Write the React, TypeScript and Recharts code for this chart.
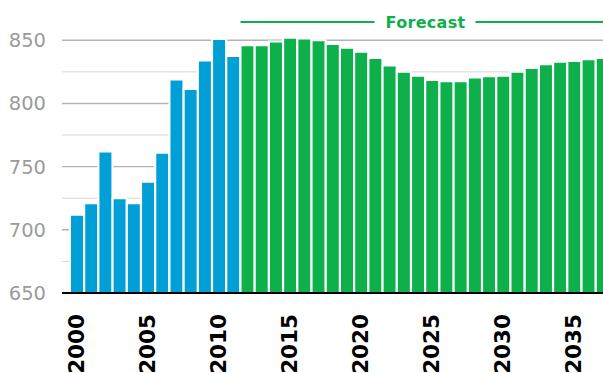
import React from 'react';
import { BarChart, Bar, XAxis, YAxis, CartesianGrid, Cell } from 'recharts';

const years = [
    2000, 2001, 2002, 2003, 2004, 2005, 2006, 2007, 2008, 2009,
    2010, 2011, 2012, 2013, 2014, 2015, 2016, 2017, 2018, 2019,
    2020, 2021, 2022, 2023, 2024, 2025, 2026, 2027, 2028, 2029,
    2030, 2031, 2032, 2033, 2034, 2035, 2036, 2037,
];
const values = [
    712, 721, 762, 725, 721, 738, 761, 819, 811.5, 834,
    851, 837.5, 846, 846, 849, 852, 851.5, 850, 847, 844,
    841, 836, 830, 825, 822, 818.5, 817.5, 817.5, 820.5, 821.5,
    822, 825, 828, 831, 833, 833.5, 835, 836,
];
const yTicks = [650, 675, 700, 725, 750, 775, 800, 825, 850];
const yLabels = [650, 700, 750, 800, 850];
const forecastFrom = 2012;
const forecastLabel = 'Forecast';

const BLUE = '#00a0d7';
const GREEN = '#0db04b';

// chart geometry
const WIDTH = 610;
const HEIGHT = 373;
const AXIS_W = 62;
const PAD_LEFT = 8;
const TOP = 15;
const band = (WIDTH - AXIS_W - PAD_LEFT) / years.length;

const data = years.map((year, i) => ({ year, value: values[i] }));

const GridLine = (props: any) => {
    const { x1, x2, y1, y2, index } = props;
    // skip the plot's top edge, only the tick rows get a line
    if (y1 <= TOP + 1) return null;
    const major = index % 2 === 0;
    return (
        <line x1={x1} x2={x2} y1={y1} y2={y2}
            stroke={major ? '#b4b4b4' : '#d6d6d6'} strokeWidth={major ? 1.4 : 1} />
    );
};

const YearTick = ({ x, y, payload }: any) => {
    const tx = x + 6.4;
    const ty = y + 19;
    return (
        <text x={tx} y={ty} transform={`rotate(-90, ${tx}, ${ty})`} textAnchor="end"
            fill="#000" fontSize={21.5} fontWeight={700} fontFamily="DejaVu Sans">
            {payload.value}
        </text>
    );
};

const ValueTick = ({ x, y, payload }: any) => {
    if (!yLabels.includes(payload.value)) return null;
    return (
        <text x={x} y={y} dy={7} textAnchor="end" fill="#9b9b9b" fontSize={19.5} fontFamily="DejaVu Sans">
            {payload.value}
        </text>
    );
};

// bracket line with label over the forecast years
const ForecastMark = () => {
    const x0 = AXIS_W + PAD_LEFT + (forecastFrom - years[0]) * band;
    const y = 22;
    const cx = 425.5;
    return (
        <g>
            <line x1={x0} x2={cx - 51} y1={y} y2={y} stroke={GREEN} strokeWidth={2} />
            <line x1={cx + 50} x2={WIDTH} y1={y} y2={y} stroke={GREEN} strokeWidth={2} />
            <text x={cx} y={y + 6} textAnchor="middle" fill={GREEN} fontSize={16} fontWeight={700}
                letterSpacing={0.3} fontFamily="DejaVu Sans">
                {forecastLabel}
            </text>
        </g>
    );
};

const App = () => {
    return (
        <div style={{ position: 'absolute', left: 0, top: 0, width: 603, height: 373, overflow: 'hidden', background: '#fff' }}>
            <BarChart width={WIDTH} height={HEIGHT} data={data} barCategoryGap={0}
                margin={{ top: TOP, right: 0, bottom: 0, left: 0 }}>
                <CartesianGrid vertical={false} horizontal={GridLine} />
                <XAxis dataKey="year" type="category" interval={4} height={80}
                    padding={{ left: PAD_LEFT, right: 0 }}
                    axisLine={{ stroke: '#000', strokeWidth: 2.2 }} tickLine={false} tickSize={0}
                    tick={<YearTick />} />
                <YAxis type="number" domain={[650, 870]} ticks={yTicks} width={AXIS_W}
                    axisLine={false} tickLine={false} tickSize={0} tickMargin={16}
                    tick={<ValueTick />} allowDataOverflow />
                <Bar dataKey="value" stroke="#fff" strokeWidth={2} isAnimationActive={false}>
                    {data.map((d) => (
                        <Cell key={d.year} fill={d.year < forecastFrom ? BLUE : GREEN} />
                    ))}
                </Bar>
                <ForecastMark />
            </BarChart>
        </div>
    );
};

export default App;
